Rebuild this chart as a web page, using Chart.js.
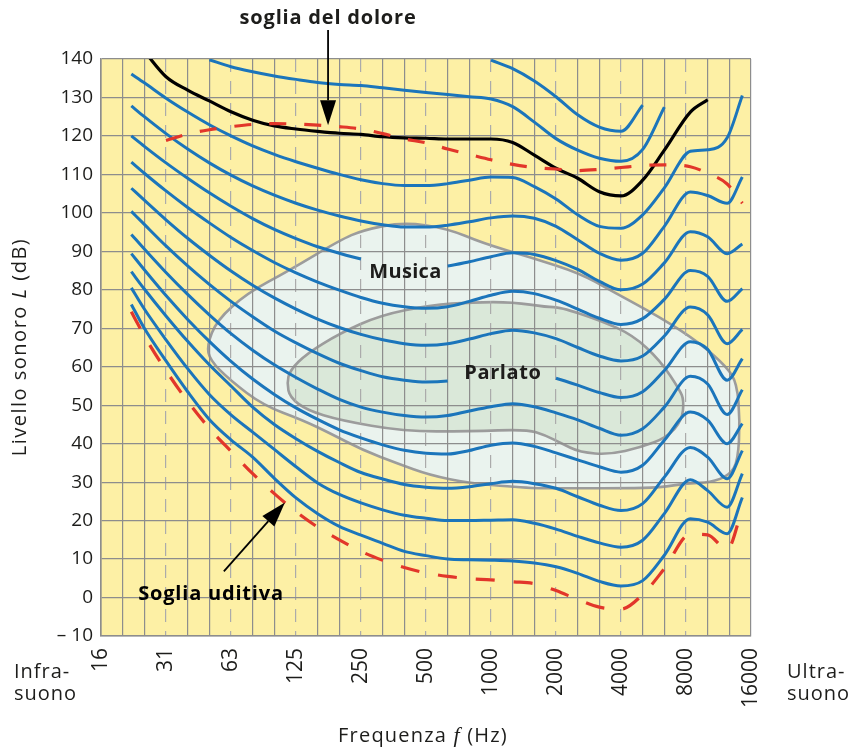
<!DOCTYPE html>
<html>
<head>
<meta charset="utf-8">
<script src="https://cdn.jsdelivr.net/npm/chart.js@4.4.1/dist/chart.umd.min.js"></script>
<style>
  html, body { margin: 0; padding: 0; background: #fff; }
  canvas { display: block; }
</style>
</head>
<body>
<canvas id="chart" width="850" height="747"></canvas>
<script>
// x = 1/3-octave band index (0 = 16 Hz, 30 = 16000 Hz), y = level in dB
const BANDS = [1.4, 2, 3, 4, 5, 6, 7, 8, 9, 10, 11, 12, 13, 14, 15, 16, 17, 18, 19, 20, 21, 22, 23, 24, 25, 26, 27.2, 28, 28.9, 29.6];
const XTICK_LABELS = ["16", "31", "63", "125", "250", "500", "1000", "2000", "4000", "8000", "16000"];

const PHON_10 = [76.2, 70.0, 61.5, 53.5, 46.3, 41.0, 36.5, 31.0, 25.9, 21.8, 18.5, 16.2, 14.1, 12.0, 10.9, 10.0, 9.8, 9.7, 9.5, 9.0, 8.0, 6.3, 4.2, 3.0, 4.4, 11.0, 20.5, 19.6, 16.6, 26.0];
const PHON_20 = [80.5, 75.0, 67.0, 59.5, 52.8, 47.5, 43.0, 38.5, 34.0, 29.8, 26.8, 24.6, 22.8, 21.4, 20.6, 20.0, 20.0, 20.1, 20.2, 19.3, 17.8, 15.9, 14.2, 13.1, 14.9, 21.8, 30.6, 27.8, 23.5, 32.2];
const PHON_30 = [84.7, 80.2, 73.2, 66.6, 60.5, 55.0, 49.5, 45.0, 41.3, 38.0, 35.1, 32.5, 30.8, 29.4, 28.7, 28.4, 28.8, 29.6, 30.2, 29.6, 28.4, 26.2, 24.0, 22.6, 24.4, 31.3, 39.0, 36.5, 30.9, 38.2];
const PHON_40 = [89.4, 85.2, 78.5, 72.3, 66.6, 61.4, 56.8, 52.8, 49.3, 46.3, 43.6, 41.5, 39.7, 38.3, 37.5, 37.3, 38.2, 39.6, 40.2, 39.3, 37.6, 35.8, 34.0, 32.6, 34.4, 40.9, 48.2, 46.1, 40.0, 45.2];
const PHON_50 = [94.4, 90.6, 84.5, 78.8, 73.5, 68.6, 64.3, 60.5, 57.2, 54.2, 51.5, 49.5, 48.2, 47.3, 46.9, 47.3, 48.5, 49.6, 50.4, 49.6, 48.0, 46.2, 44.0, 42.2, 43.9, 49.5, 57.5, 55.5, 47.6, 54.0];
const PHON_60 = [100.4, 97.0, 91.4, 86.2, 81.4, 77.0, 73.0, 69.3, 66.2, 63.4, 60.9, 59.0, 57.4, 56.5, 56.0, 56.3, 57.3, 58.5, 59.2, 58.6, 57.0, 55.2, 53.3, 52.0, 53.5, 59.0, 66.5, 64.5, 56.5, 62.1];
const PHON_70 = [106.4, 103.3, 98.2, 93.4, 89.0, 84.9, 81.2, 77.9, 75.0, 72.4, 70.2, 68.4, 67.0, 66.0, 65.6, 66.0, 67.2, 68.6, 69.5, 68.8, 67.3, 65.0, 62.8, 61.5, 62.8, 68.0, 75.5, 73.5, 66.0, 69.7];
const PHON_80 = [113.2, 110.3, 105.7, 101.4, 97.4, 93.6, 90.2, 87.1, 84.4, 82.0, 79.9, 78.0, 76.5, 75.6, 75.2, 75.6, 77.0, 78.6, 79.6, 79.0, 77.3, 75.0, 72.6, 71.0, 72.5, 77.5, 85.0, 83.5, 77.0, 80.3];
const PHON_90 = [120.0, 117.3, 113.0, 109.0, 105.2, 101.7, 98.5, 95.7, 93.3, 91.2, 89.5, 88.0, 86.9, 86.2, 85.9, 86.2, 87.3, 88.6, 89.6, 89.2, 87.6, 85.3, 82.2, 80.0, 81.5, 87.0, 95.1, 93.8, 89.4, 91.9];
const PHON_100 = [127.8, 125.0, 120.6, 116.6, 113.0, 109.8, 107.0, 104.6, 102.5, 100.7, 99.2, 97.9, 96.9, 96.3, 96.3, 96.8, 97.7, 98.7, 99.2, 98.6, 96.5, 93.0, 89.5, 87.7, 89.5, 96.5, 105.4, 104.5, 102.5, 109.3];
const PHON_110 = [136.1, 133.8, 129.8, 126.2, 122.9, 120.0, 117.4, 115.2, 113.3, 111.6, 110.0, 108.6, 107.6, 107.1, 107.1, 107.6, 108.5, 109.3, 109.2, 106.8, 103.6, 99.5, 96.5, 96.0, 99.5, 106.5, 116.0, 116.4, 119.5, 130.5];
const PHON_130 = [null, null, null, null, 139.8, 138.0, 136.7, 135.6, 134.7, 133.9, 133.4, 133.1, 132.5, 131.9, 131.3, 130.8, 130.2, 129.6, 127.6, 123.6, 119.3, 116.3, 114.2, 113.4, 116.5, 127.5, null, null, null, null];
const PHON_140 = [null, null, null, null, null, null, null, null, null, null, null, null, null, null, null, null, null, 139.7, 137.5, 134.3, 130.2, 125.5, 122.3, 121.2, 128.0, null, null, null, null, null];

// soglia del dolore (black) and the two red dashed thresholds
const PAIN = [null, 142.0, 135.4, 131.9, 129.1, 126.3, 124.1, 122.6, 121.8, 121.2, 120.7, 120.4, 119.8, 119.5, 119.4, 119.2, 119.2, 119.2, 118.3, 115.0, 111.6, 109.0, 105.5, 104.4, 108.5, 116.3, 126.2, 129.4, null, null];
const PAIN_DASHED = [null, null, 118.8, 120.5, 121.6, 122.4, 123.0, 123.2, 123.1, 122.8, 122.4, 121.8, 120.6, 119.2, 118.2, 116.6, 115.2, 113.8, 112.6, 111.8, 111.4, 111.0, 111.3, 111.8, 112.3, 112.5, 112.0, 110.3, 107.5, 102.5];
const HEARING = [74.3, 68.0, 59.0, 51.0, 44.0, 38.0, 32.2, 27.0, 22.3, 18.3, 15.0, 12.0, 9.7, 7.8, 6.4, 5.5, 4.9, 4.6, 4.1, 3.6, 1.8, -0.5, -2.5, -3.0, 0.8, 7.5, 16.5, 16.3, 12.5, 23.0];

// outlines of the Musica and Parlato areas
const MUSICA_BAND = [4.89, 5.35, 6.74, 8.72, 11.03, 12.09, 13.94, 15.97, 17.63, 19.8, 22.11, 23.49, 25.8, 27.65, 28.89, 29.35, 29.49, 29.4, 29.03, 28.11, 27.05, 25.8, 24.28, 21.18, 19.8, 17.03, 15.18, 13.66, 12.09, 10.57, 9.32, 7.48, 5.95, 5.03];
const MUSICA_DB = [65.6, 72.1, 79.1, 85.1, 92.9, 95.5, 97.6, 96.0, 92.1, 88.5, 84.3, 79.9, 72.9, 66.1, 59.9, 55.7, 46.1, 35.7, 31.8, 29.9, 29.7, 28.6, 28.4, 28.4, 28.4, 29.7, 31.8, 34.9, 38.3, 42.7, 46.1, 50.0, 56.5, 61.7];
const PARLATO_BAND = [8.58, 8.72, 9.51, 11.03, 12.88, 15.18, 17.17, 19.02, 20.58, 21.18, 23.03, 24.55, 25.8, 26.72, 26.9, 26.82, 26.12, 24.88, 23.49, 22.11, 21.18, 20.49, 19.66, 17.03, 13.94, 11.03, 9.51, 8.72];
const PARLATO_DB = [55.7, 59.1, 63.5, 68.7, 73.4, 76.0, 76.8, 76.8, 75.5, 75.5, 72.1, 68.2, 61.7, 53.9, 51.3, 46.1, 41.6, 39.0, 37.2, 37.7, 40.3, 42.2, 43.7, 43.2, 43.2, 46.1, 48.7, 52.0];

const YELLOW = "#fdf0a5";
const BLUE = "#1b75bb";
const GRID = "#8d8d8d";
const GRID_OCT = "#ababab";
const RED = "#e2362a";
const MUSICA_FILL = "#eaf3ee";
const PARLATO_FILL = "#dae8d9";
const EDGE = "#9c9c9c";
const INK = "#1d1d1b";
const FONT = "'Open Sans', sans-serif";

Chart.defaults.font.family = FONT;
Chart.defaults.color = INK;

const toPoints = (vals) =>
  vals.map((v, i) => ({ x: BANDS[i], y: v })).filter((p) => p.y !== null);

// gap = [first, last] data index of the stretch hidden behind a label
const blue = (vals, gap) => ({
  data: toPoints(vals),
  borderColor: BLUE,
  borderWidth: 3,
  pointRadius: 0,
  fill: false,
  cubicInterpolationMode: "monotone",
  segment: gap
    ? { borderColor: (c) => (c.p0DataIndex >= gap[0] && c.p1DataIndex <= gap[1] ? "rgba(0,0,0,0)" : undefined) }
    : undefined,
});

const isInnerOctave = (t) => t && t.value % 3 === 0 && t.value > 0 && t.value < 30;

function smoothLoop(ctx, pts) {
  const n = pts.length;
  const mid = (p, q) => [(p[0] + q[0]) / 2, (p[1] + q[1]) / 2];
  const m0 = mid(pts[n - 1], pts[0]);
  ctx.beginPath();
  ctx.moveTo(m0[0], m0[1]);
  for (let i = 0; i < n; i++) {
    const p = pts[i];
    const m = mid(p, pts[(i + 1) % n]);
    ctx.quadraticCurveTo(p[0], p[1], m[0], m[1]);
  }
  ctx.closePath();
}

function drawArea(chart, bands, dbs, fillColor) {
  const { ctx, scales: { x, y } } = chart;
  const pts = bands.map((b, i) => [x.getPixelForValue(b), y.getPixelForValue(dbs[i])]);
  smoothLoop(ctx, pts);
  ctx.fillStyle = fillColor;
  ctx.fill();
  ctx.lineWidth = 2.6;
  ctx.strokeStyle = EDGE;
  ctx.stroke();
}

function arrow(ctx, x0, y0, x1, y1) {
  const len = Math.hypot(x1 - x0, y1 - y0);
  const ux = (x1 - x0) / len, uy = (y1 - y0) / len;
  const hl = 25, hw = 8;
  const bx = x1 - ux * hl, by = y1 - uy * hl;
  ctx.strokeStyle = "#000";
  ctx.lineWidth = 1.8;
  ctx.beginPath();
  ctx.moveTo(x0, y0);
  ctx.lineTo(bx, by);
  ctx.stroke();
  ctx.fillStyle = "#000";
  ctx.beginPath();
  ctx.moveTo(x1, y1);
  ctx.lineTo(bx - uy * hw, by + ux * hw);
  ctx.lineTo(bx + uy * hw, by - ux * hw);
  ctx.closePath();
  ctx.fill();
}

function richText(ctx, parts, cx, cy, spacing) {
  ctx.letterSpacing = spacing + "px";
  let total = 0;
  parts.forEach((p) => { ctx.font = p.font; total += ctx.measureText(p.t).width; });
  let x = cx - total / 2;
  ctx.textAlign = "left";
  parts.forEach((p) => {
    ctx.font = p.font;
    ctx.fillText(p.t, x, cy);
    x += ctx.measureText(p.t).width;
  });
  ctx.letterSpacing = "0px";
}

const paper = {
  id: "paper",
  beforeDraw(chart) {
    const { ctx, chartArea: a } = chart;
    ctx.save();
    ctx.fillStyle = "#fff";
    ctx.fillRect(0, 0, chart.width, chart.height);
    ctx.fillStyle = YELLOW;
    ctx.fillRect(a.left, a.top, a.right - a.left, a.bottom - a.top);
    drawArea(chart, MUSICA_BAND, MUSICA_DB, MUSICA_FILL);
    drawArea(chart, PARLATO_BAND, PARLATO_DB, PARLATO_FILL);
    ctx.restore();
  },
  afterDatasetsDraw(chart) {
    const { ctx, scales: { x, y } } = chart;
    ctx.save();
    ctx.fillStyle = INK;
    ctx.textBaseline = "middle";
    ctx.font = `bold 20px ${FONT}`;
    richText(ctx, [{ t: "Musica", font: `bold 20px ${FONT}` }], x.getPixelForValue(14.05), y.getPixelForValue(84.6), 0.3);
    richText(ctx, [{ t: "Parlato", font: `bold 20px ${FONT}` }], x.getPixelForValue(18.55), y.getPixelForValue(58.2), 0.6);

    // soglia del dolore
    const px = x.getPixelForValue(10.48);
    richText(ctx, [{ t: "soglia del dolore", font: `bold 20px ${FONT}` }], px, 18, 0.8);
    arrow(ctx, px, 30, px, y.getPixelForValue(122.8));

    // soglia uditiva
    richText(ctx, [{ t: "Soglia uditiva", font: `bold 20px ${FONT}` }], 211, y.getPixelForValue(0.9), 0.8);
    arrow(ctx, x.getPixelForValue(5.67), y.getPixelForValue(6.8),
               x.getPixelForValue(8.49), y.getPixelForValue(24.7));
    ctx.restore();
  },
  afterDraw(chart) {
    const { ctx } = chart;
    ctx.save();
    ctx.fillStyle = INK;
    ctx.textBaseline = "alphabetic";
    ctx.font = `20px ${FONT}`;
    ctx.textAlign = "left";
    ctx.letterSpacing = "1px";
    ctx.fillText("Infra-", 14, 678);
    ctx.fillText("suono", 14, 700);
    ctx.fillText("Ultra-", 787, 678);
    ctx.fillText("suono", 787, 700);
    ctx.letterSpacing = "0px";

    richText(ctx, [
      { t: "Frequenza ", font: `20px ${FONT}` },
      { t: "f", font: "italic 22px 'Liberation Serif', serif" },
      { t: " (Hz)", font: `20px ${FONT}` },
    ], 423, 742, 1.2);

    ctx.translate(20, 347);
    ctx.rotate(-Math.PI / 2);
    ctx.textBaseline = "middle";
    richText(ctx, [
      { t: "Livello sonoro ", font: `20px ${FONT}` },
      { t: "L", font: `italic 20px ${FONT}` },
      { t: " (dB)", font: `20px ${FONT}` },
    ], 0, 0, 1.5);
    ctx.restore();
  },
};

new Chart(document.getElementById("chart"), {
  type: "line",
  data: {
    datasets: [
      { data: toPoints(HEARING), borderColor: RED, borderWidth: 3.2, borderDash: [19, 19], pointRadius: 0, fill: false, cubicInterpolationMode: "monotone" },
      { data: toPoints(PAIN_DASHED), borderColor: RED, borderWidth: 3.2, borderDash: [17, 18], pointRadius: 0, fill: false, cubicInterpolationMode: "monotone" },
      { data: toPoints(PAIN), borderColor: "#000", borderWidth: 3.2, pointRadius: 0, fill: false, cubicInterpolationMode: "monotone" },
      blue(PHON_10),
      blue(PHON_20),
      blue(PHON_30),
      blue(PHON_40),
      blue(PHON_50),
      blue(PHON_60, [15, 20]),
      blue(PHON_70),
      blue(PHON_80),
      blue(PHON_90, [11, 15]),
      blue(PHON_100),
      blue(PHON_110),
      blue(PHON_130),
      blue(PHON_140),
    ],
  },
  options: {
    responsive: false,
    animation: false,
    devicePixelRatio: 1,
    layout: { padding: { top: 59, right: 99, bottom: 0, left: 0 } },
    plugins: { legend: { display: false }, tooltip: { enabled: false } },
    scales: {
      x: {
        type: "linear",
        min: 0,
        max: 30,
        afterFit: (s) => { s.height = 111; },
        grid: {
          drawTicks: false,
          lineWidth: 1.2,
          color: (c) => (isInnerOctave(c.tick) ? GRID_OCT : GRID),
        },
        border: {
          color: GRID,
          width: 1.6,
          dash: (c) => (isInnerOctave(c.tick) ? [13, 9] : []),
        },
        ticks: {
          stepSize: 1,
          autoSkip: false,
          minRotation: 90,
          maxRotation: 90,
          padding: 12,
          font: { size: 21 },
          callback: (v) => (v % 3 === 0 ? XTICK_LABELS[v / 3] : ""),
        },
      },
      y: {
        type: "linear",
        min: -10,
        max: 140,
        afterFit: (s) => { s.width = 101; },
        grid: { drawTicks: false, lineWidth: 1.2, color: GRID },
        border: { color: GRID, width: 1.6 },
        ticks: {
          stepSize: 10,
          padding: 8,
          font: { size: 19 },
          callback: (v) => (v === -10 ? "– 10" : String(v)),
        },
      },
    },
  },
  plugins: [paper],
});
</script>
</body>
</html>
